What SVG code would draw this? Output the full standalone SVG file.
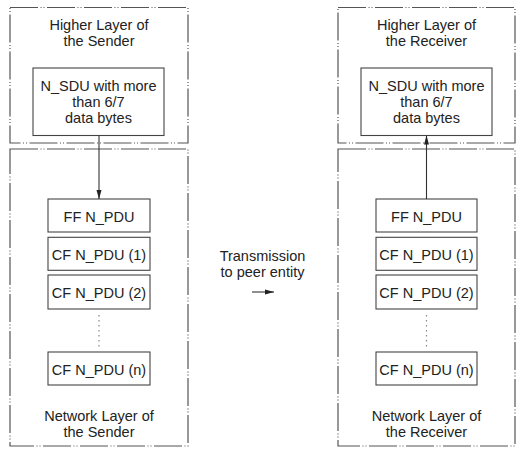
<svg xmlns="http://www.w3.org/2000/svg" width="524" height="457" viewBox="0 0 524 457">
<defs>
<style>
.layer{fill:none;stroke:#555;stroke-width:1.2;stroke-dasharray:28 2.5 1 2 1 2.5}
.box{fill:#fff;stroke:#444;stroke-width:1.1}
.t{font-family:"Liberation Sans",Arial,sans-serif;font-size:14.5px;fill:#222;text-anchor:middle}
.conn{stroke:#333;stroke-width:1.1;fill:none}
.dots{stroke:#888;stroke-width:1.2;stroke-dasharray:1.5 3.5;fill:none}
</style>
<marker id="ah" markerUnits="userSpaceOnUse" markerWidth="10" markerHeight="8" refX="9" refY="4" orient="auto">
<path d="M0,1.5 L9,4 L0,6.5 Z" fill="#222"/>
</marker>
</defs>
<rect width="524" height="457" fill="#fff"/>

<g id="sender-higher">
<rect class="layer" x="10" y="7.5" width="178" height="135.5"/>
<text class="t" x="99" y="30">Higher Layer of</text>
<text class="t" x="99" y="46">the Sender</text>
</g>
<g id="sender-sdu">
<rect class="box" x="33" y="68" width="131" height="67.5"/>
<text class="t" x="98.5" y="91">N_SDU with more</text>
<text class="t" x="98.5" y="107">than 6/7</text>
<text class="t" x="98.5" y="123">data bytes</text>
</g>
<g id="sender-network">
<rect class="layer" x="10" y="149" width="178" height="297"/>
<text class="t" x="99" y="420.5">Network Layer of</text>
<text class="t" x="99" y="437">the Sender</text>
</g>
<g id="sender-ff">
<rect class="box" x="48" y="199" width="102" height="33"/>
<text class="t" x="99" y="221.5">FF N_PDU</text>
</g>
<g id="sender-cf1">
<rect class="box" x="48" y="237.3" width="102" height="33"/>
<text class="t" x="99" y="259.8">CF N_PDU (1)</text>
</g>
<g id="sender-cf2">
<rect class="box" x="48" y="275" width="102" height="34"/>
<text class="t" x="99" y="297.5">CF N_PDU (2)</text>
</g>
<g id="sender-cfn">
<rect class="box" x="48" y="352" width="102" height="33"/>
<text class="t" x="99" y="374.5">CF N_PDU (n)</text>
</g>

<g id="receiver-higher">
<rect class="layer" x="338" y="7.5" width="177" height="135.5"/>
<text class="t" x="426.5" y="30">Higher Layer of</text>
<text class="t" x="426.5" y="46">the Receiver</text>
</g>
<g id="receiver-sdu">
<rect class="box" x="361" y="68" width="131" height="67.5"/>
<text class="t" x="426.5" y="91">N_SDU with more</text>
<text class="t" x="426.5" y="107">than 6/7</text>
<text class="t" x="426.5" y="123">data bytes</text>
</g>
<g id="receiver-network">
<rect class="layer" x="338" y="149" width="177" height="297"/>
<text class="t" x="426.5" y="420.5">Network Layer of</text>
<text class="t" x="426.5" y="437">the Receiver</text>
</g>
<g id="receiver-ff">
<rect class="box" x="376" y="199" width="101" height="33"/>
<text class="t" x="426.5" y="221.5">FF N_PDU</text>
</g>
<g id="receiver-cf1">
<rect class="box" x="376" y="237.3" width="101" height="33"/>
<text class="t" x="426.5" y="259.8">CF N_PDU (1)</text>
</g>
<g id="receiver-cf2">
<rect class="box" x="376" y="275" width="101" height="34"/>
<text class="t" x="426.5" y="297.5">CF N_PDU (2)</text>
</g>
<g id="receiver-cfn">
<rect class="box" x="376" y="352" width="101" height="33"/>
<text class="t" x="426.5" y="374.5">CF N_PDU (n)</text>
</g>

<g id="transmission">
<text class="t" x="262.5" y="261">Transmission</text>
<text class="t" x="262.5" y="277">to peer entity</text>
</g>

<g id="connectors">
<line class="conn" x1="99" y1="135.5" x2="99" y2="199" marker-end="url(#ah)"/>
<line class="conn" x1="426.5" y1="199" x2="426.5" y2="135.5" marker-end="url(#ah)"/>
<line class="conn" x1="252" y1="292" x2="274" y2="292" marker-end="url(#ah)"/>
<line class="dots" x1="99" y1="315" x2="99" y2="347"/>
<line class="dots" x1="426.5" y1="315" x2="426.5" y2="347"/>
</g>
</svg>
